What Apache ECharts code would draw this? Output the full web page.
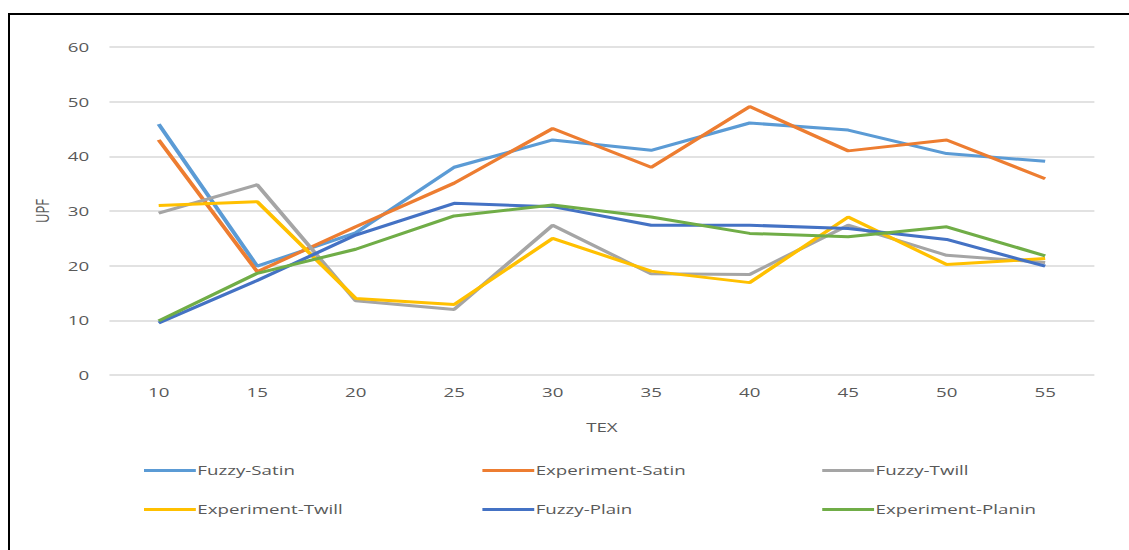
<!DOCTYPE html>
<html>
<head>
<meta charset="utf-8">
<script src="https://cdn.jsdelivr.net/npm/echarts@6/dist/echarts.min.js"></script>
<style>
html,body{margin:0;padding:0;background:#fff;overflow:hidden;}
#frame{position:absolute;left:8px;top:13px;width:1140px;height:560px;border:2px solid #000;box-sizing:border-box;}
#chart{position:absolute;left:0;top:0;width:784px;height:550px;transform:scaleX(1.44);transform-origin:0 0;}
</style>
</head>
<body>
<div id="frame"></div>
<div id="chart"></div>
<script>
const categories = ['10','15','20','25','30','35','40','45','50','55'];
const yTicks = [0,10,20,30,40,50,60];
const fuzzySatin       = [45.9, 19.9, 26.0, 38.0, 43.0, 41.1, 46.1, 44.8, 40.5, 39.1];
const experimentSatin  = [43.0, 18.9, 27.1, 35.1, 45.1, 38.0, 49.1, 41.0, 43.0, 35.9];
const fuzzyTwill       = [29.6, 34.8, 13.6, 12.0, 27.4, 18.5, 18.4, 27.4, 21.9, 20.6];
const experimentTwill  = [31.0, 31.7, 14.0, 12.9, 25.0, 19.0, 16.9, 28.9, 20.2, 21.3];
const fuzzyPlain       = [9.5, 17.3, 25.6, 31.4, 30.8, 27.4, 27.4, 26.8, 24.8, 19.9];
const experimentPlanin = [9.9, 18.6, 23.0, 29.1, 31.1, 28.9, 25.9, 25.3, 27.1, 21.8];

const seriesDefs = [
  {name:'Fuzzy-Satin', data:fuzzySatin, color:'#5B9BD5'},
  {name:'Experiment-Satin', data:experimentSatin, color:'#ED7D31'},
  {name:'Fuzzy-Twill', data:fuzzyTwill, color:'#A5A5A5'},
  {name:'Experiment-Twill', data:experimentTwill, color:'#FFC000'},
  {name:'Fuzzy-Plain', data:fuzzyPlain, color:'#4472C4'},
  {name:'Experiment-Planin', data:experimentPlanin, color:'#70AD47'}
];

// chart is drawn at 784px wide and stretched horizontally by 1.44 (like the reference)
const legendPos = [
  {left:95, top:459},{left:330, top:459},{left:566, top:459},
  {left:95, top:498},{left:330, top:498},{left:566, top:498}
];

const chart = echarts.init(document.getElementById('chart'), null, {renderer:'svg'});
chart.setOption({
  animation:false,
  backgroundColor:'transparent',
  textStyle:{fontFamily:'Open Sans'},
  grid:{left:76, right:24, top:47, bottom:175, containLabel:false},
  legend: seriesDefs.map((s,i)=>({
    data:[s.name], left:legendPos[i].left, top:legendPos[i].top,
    itemWidth:36, itemHeight:14, itemGap:0,
    icon:'path://M0,5.5 L36,5.5 L36,8.5 L0,8.5 Z',
    textStyle:{color:'#595959', fontSize:13, fontFamily:'Open Sans', padding:[0,0,0,-4]}
  })),
  xAxis:{
    type:'category', data:categories, boundaryGap:true,
    name:'TEX', nameLocation:'middle', nameGap:46,
    nameTextStyle:{color:'#595959', fontSize:13, fontFamily:'Open Sans'},
    axisLine:{show:false}, axisTick:{show:false},
    axisLabel:{color:'#595959', fontSize:13, margin:11}
  },
  yAxis:{
    type:'value', min:yTicks[0], max:yTicks[yTicks.length-1], interval:10,
    name:'UPF', nameLocation:'middle', nameGap:40, nameRotate:90,
    nameTextStyle:{color:'#595959', fontSize:13, fontFamily:'Open Sans'},
    axisLine:{show:false}, axisTick:{show:false},
    axisLabel:{color:'#595959', fontSize:13, margin:14},
    splitLine:{lineStyle:{color:'#d9d9d9', width:1.5}}
  },
  series: seriesDefs.map(s=>({
    name:s.name, type:'line', data:s.data, symbol:'none',
    lineStyle:{color:s.color, width:3}, itemStyle:{color:s.color}
  }))
});
</script>
</body>
</html>
